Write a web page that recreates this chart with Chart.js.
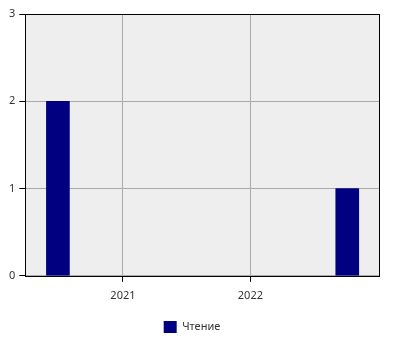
<!DOCTYPE html>
<html>
<head>
<meta charset="utf-8">
<script src="https://cdn.jsdelivr.net/npm/chart.js@4/dist/chart.umd.min.js"></script>
<style>
  html, body { margin: 0; padding: 0; background: #fff; }
  #wrap { width: 400px; height: 350px; }
</style>
</head>
<body>
<div id="wrap"><canvas id="c"></canvas></div>
<script>
// данные (год в виде дробного числа)
const seriesName = 'Чтение';
const barYears   = [2020.49, 2022.76];
const barValues  = [2, 1];
const xTicks     = [2021, 2022];
const yTicks     = [0, 1, 2, 3];
const xMin = 2020.234, xMax = 2023.009;

const points = barYears.map((x, i) => ({ x: x, y: barValues[i] }));

// фон и рамка области графика
const plotFrame = {
  id: 'plotFrame',
  beforeDraw(chart) {
    const a = chart.chartArea, ctx = chart.ctx;
    ctx.save();
    ctx.fillStyle = '#eeeeee';
    ctx.fillRect(a.left, a.top, a.right - a.left, a.bottom - a.top);
    ctx.restore();
  },
  afterDraw(chart) {
    const a = chart.chartArea, ctx = chart.ctx;
    ctx.save();
    ctx.strokeStyle = '#000';
    ctx.lineWidth = 1;
    ctx.strokeRect(Math.round(a.left) + 0.5, Math.round(a.top) + 0.5,
                   Math.round(a.right - a.left), Math.round(a.bottom - a.top));
    ctx.restore();
  }
};

Chart.defaults.font.family = '"Noto Sans", sans-serif';
Chart.defaults.font.size = 11;
Chart.defaults.color = '#333';

new Chart(document.getElementById('c'), {
  type: 'bar',
  data: {
    datasets: [{
      label: seriesName,
      data: points,
      backgroundColor: '#000080',
      borderWidth: 0,
      barThickness: 23
    }]
  },
  options: {
    responsive: true,
    maintainAspectRatio: false,
    animation: false,
    layout: { padding: { top: 14, right: 21, left: 5, bottom: 7 } },
    scales: {
      x: {
        type: 'linear',
        min: xMin, max: xMax,
        offset: false,
        afterBuildTicks: s => { s.ticks = xTicks.map(v => ({ value: v })); },
        ticks: { callback: v => String(v), padding: 7, maxRotation: 0 },
        grid: { offset: false, color: '#aaaaaa', tickColor: '#000', tickLength: 6 },
        border: { display: false }
      },
      y: {
        min: 0, max: 3,
        afterBuildTicks: s => { s.ticks = yTicks.map(v => ({ value: v })); },
        ticks: { padding: 4 },
        grid: { color: '#aaaaaa', tickColor: '#000', tickLength: 6 },
        border: { display: false }
      }
    },
    plugins: {
      legend: {
        position: 'bottom',
        labels: { boxWidth: 13, boxHeight: 12, padding: 12, color: '#333' }
      },
      tooltip: { enabled: false }
    }
  },
  plugins: [plotFrame]
});
</script>
</body>
</html>
